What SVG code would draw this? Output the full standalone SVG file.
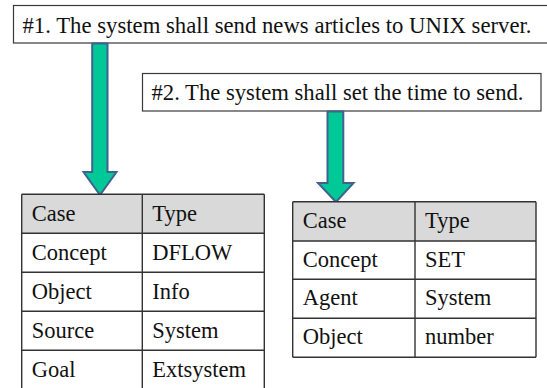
<svg xmlns="http://www.w3.org/2000/svg" width="547" height="388" viewBox="0 0 547 388">
<style>
.box{fill:#fff;stroke:#3a3a3a;stroke-width:1.2}
.hdr{fill:#d9d9d9}
.cell{fill:#fff}
.grid{fill:none;stroke:#333;stroke-width:1.4}
.arrow{fill:#00c896;stroke:#3f6391;stroke-width:2;stroke-linejoin:miter}
</style>
<rect width="547" height="388" fill="#fff"/>
<g font-family="'Liberation Serif', 'Times New Roman', serif" font-size="22.5" fill="#111">
<g id="req1">
<rect class="box" x="13.5" y="5.5" width="545" height="37.5"/>
<text x="22.5" y="32.5" textLength="509" lengthAdjust="spacingAndGlyphs">#1. The system shall send news articles to UNIX server.</text>
</g>
<g id="req2">
<rect class="box" x="142.5" y="73.5" width="398.5" height="37.5"/>
<text x="151.5" y="100" textLength="372" lengthAdjust="spacingAndGlyphs">#2. The system shall set the time to send.</text>
</g>
<g id="connectors">
<polygon class="arrow" points="92.2,43.5 107.5,43.5 107.5,172 116.5,172 100,195 83.5,172 92.2,172"/>
<polygon class="arrow" points="327.5,111.5 343.3,111.5 343.3,183 353.5,183 336,202 318,183 327.5,183"/>
</g>
<g id="table1">
<rect class="hdr" x="21.7" y="194.3" width="242.6" height="39"/>
<rect class="cell" x="21.7" y="233.3" width="242.6" height="156"/>
<path class="grid" d="M21.7,194.3H264.3M21.7,233.3H264.3M21.7,272.3H264.3M21.7,311.3H264.3M21.7,350.3H264.3M21.7,194.3V390M142.3,194.3V390M264.3,194.3V390"/>
<text x="31.7" y="220.7">Case</text>
<text x="152.3" y="220.7">Type</text>
<text x="31.7" y="259.5">Concept</text>
<text x="152.3" y="259.5">DFLOW</text>
<text x="31.7" y="298.5">Object</text>
<text x="152.3" y="298.5">Info</text>
<text x="31.7" y="337.5">Source</text>
<text x="152.3" y="337.5">System</text>
<text x="31.7" y="376.5">Goal</text>
<text x="152.3" y="376.5">Extsystem</text>
</g>
<g id="table2">
<rect class="hdr" x="292.7" y="201.7" width="243.3" height="39.3"/>
<rect class="cell" x="292.7" y="241" width="243.3" height="116.3"/>
<path class="grid" d="M292.7,201.7H536M292.7,241H536M292.7,279.3H536M292.7,318.3H536M292.7,357.3H536M292.7,201.7V357.3M415,201.7V357.3M536,201.7V357.3"/>
<text x="302.7" y="227.7">Case</text>
<text x="425" y="227.7">Type</text>
<text x="302.7" y="266.5">Concept</text>
<text x="425" y="266.5">SET</text>
<text x="302.7" y="305.3">Agent</text>
<text x="425" y="305.3">System</text>
<text x="302.7" y="344.3">Object</text>
<text x="425" y="344.3">number</text>
</g>
</g>
</svg>
